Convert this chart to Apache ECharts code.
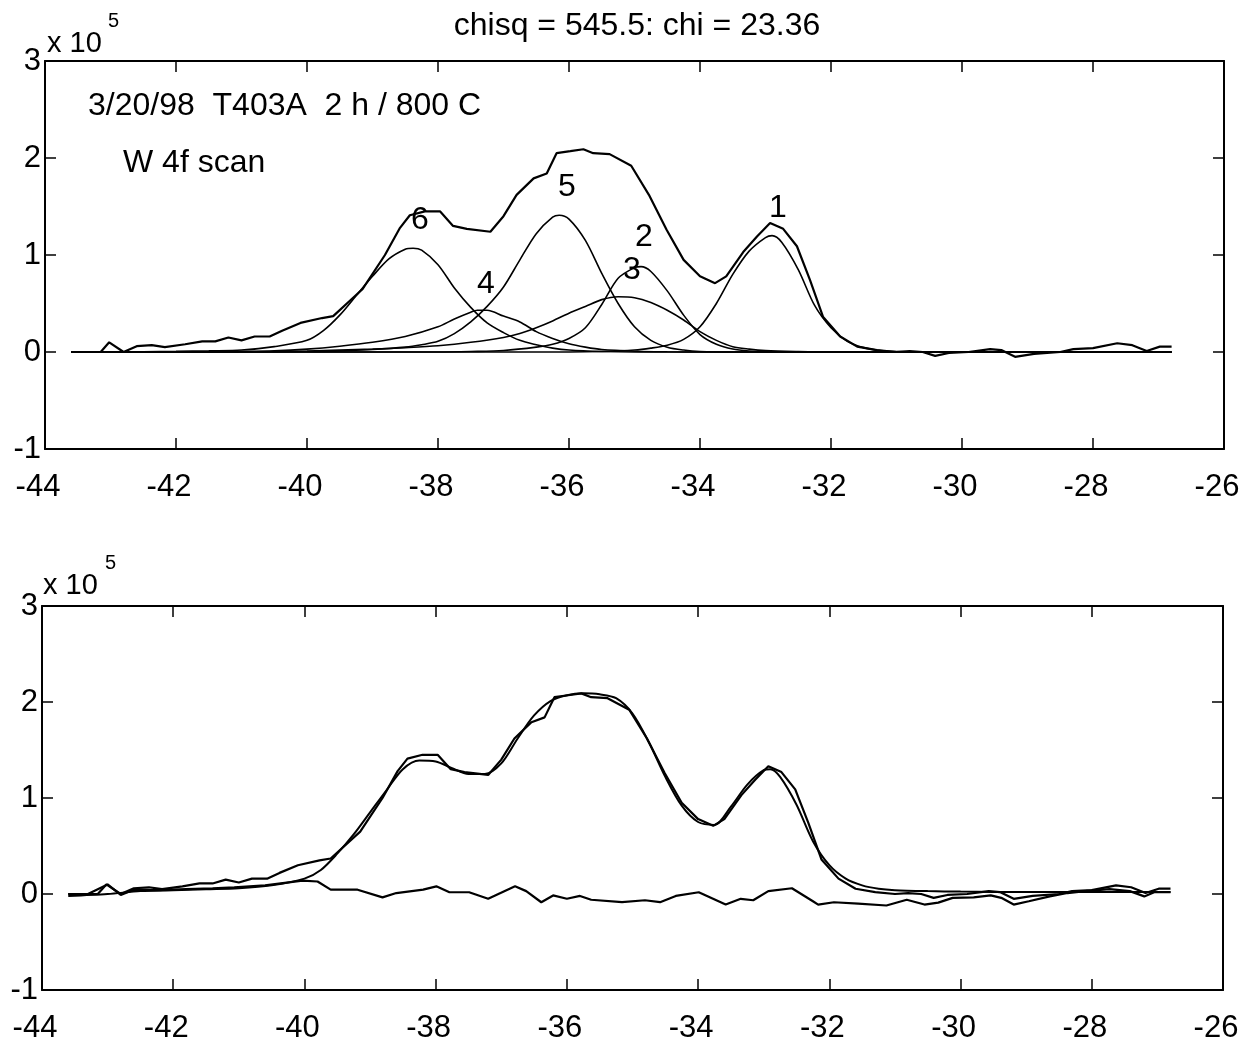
<!DOCTYPE html>
<html><head><meta charset="utf-8">
<script src="https://cdn.jsdelivr.net/npm/echarts@6/dist/echarts.min.js"></script>
<style>html,body{margin:0;padding:0;background:#fff}#c{width:1246px;height:1044px}</style>
</head><body><div id="c"></div><script>
// ---- data (y in units of 1e5) ----
const xTickLabels = [-44,-42,-40,-38,-36,-34,-32,-30,-28,-26];
const yTickLabels = [-1,0,1,2,3];

const measured = [[-43.6,0.0],[-43.3,0.0],[-43.15,0.0],[-43.02,0.10],[-42.8,0.0],[-42.6,0.06],[-42.37,0.07],[-42.17,0.05],[-41.86,0.08],[-41.6,0.11],[-41.4,0.11],[-41.2,0.15],[-41.0,0.12],[-40.8,0.16],[-40.57,0.16],[-40.38,0.22],[-40.1,0.30],[-39.77,0.35],[-39.6,0.37],[-39.15,0.65],[-38.81,1.0],[-38.58,1.28],[-38.43,1.41],[-38.2,1.45],[-37.97,1.45],[-37.77,1.30],[-37.56,1.27],[-37.2,1.24],[-37.0,1.40],[-36.8,1.62],[-36.54,1.79],[-36.34,1.84],[-36.19,2.05],[-35.98,2.07],[-35.78,2.09],[-35.63,2.05],[-35.38,2.04],[-35.05,1.92],[-34.78,1.62],[-34.51,1.26],[-34.25,0.95],[-34.0,0.78],[-33.77,0.71],[-33.6,0.78],[-33.34,1.03],[-33.13,1.19],[-32.93,1.33],[-32.73,1.27],[-32.52,1.09],[-32.32,0.74],[-32.12,0.36],[-31.86,0.16],[-31.6,0.055],[-31.3,0.02],[-31.0,0.0],[-30.8,0.01],[-30.6,0.0],[-30.41,-0.04],[-30.2,-0.01],[-29.9,0.0],[-29.57,0.03],[-29.4,0.02],[-29.19,-0.05],[-28.9,-0.02],[-28.5,0.0],[-28.3,0.03],[-28.0,0.04],[-27.63,0.09],[-27.4,0.07],[-27.18,0.01],[-26.98,0.055],[-26.8,0.055]];

const peak1 = [[-43.6,0],[-36,0],[-35.5,0.005],[-35,0.02],[-34.75,0.04],[-34.5,0.07],[-34.25,0.13],[-34,0.26],[-33.75,0.50],[-33.5,0.80],[-33.25,1.04],[-33,1.18],[-32.9,1.20],[-32.75,1.13],[-32.5,0.85],[-32.25,0.48],[-32,0.25],[-31.75,0.11],[-31.5,0.045],[-31.25,0.015],[-31,0.005],[-30.5,0],[-26.8,0]];
const peak2 = [[-43.6,0],[-38,0],[-37.5,0.005],[-37,0.015],[-36.5,0.05],[-36.25,0.08],[-36,0.14],[-35.75,0.25],[-35.5,0.49],[-35.25,0.76],[-35,0.87],[-34.9,0.88],[-34.75,0.83],[-34.5,0.63],[-34.25,0.38],[-34,0.18],[-33.75,0.08],[-33.5,0.03],[-33.25,0.01],[-33,0.003],[-32.5,0],[-26.8,0]];
const peak3 = [[-43.6,0],[-41,0.003],[-40,0.01],[-39,0.03],[-38.5,0.045],[-38,0.065],[-37.5,0.10],[-37,0.15],[-36.75,0.19],[-36.5,0.25],[-36.25,0.32],[-36,0.40],[-35.75,0.47],[-35.5,0.54],[-35.25,0.57],[-35,0.56],[-34.75,0.51],[-34.5,0.43],[-34.25,0.33],[-34,0.21],[-33.75,0.12],[-33.5,0.055],[-33.25,0.03],[-33,0.015],[-32.5,0.005],[-32,0],[-26.8,0]];
const peak4 = [[-43.6,0],[-41.5,0.003],[-41,0.006],[-40.5,0.012],[-40,0.03],[-39.5,0.06],[-39,0.10],[-38.5,0.16],[-38,0.26],[-37.75,0.34],[-37.5,0.41],[-37.4,0.43],[-37.25,0.43],[-37,0.37],[-36.75,0.31],[-36.5,0.21],[-36.25,0.14],[-36,0.085],[-35.75,0.05],[-35.5,0.025],[-35,0.008],[-34.5,0.002],[-34,0],[-26.8,0]];
const peak5 = [[-43.6,0],[-41,0.002],[-40,0.005],[-39.5,0.01],[-39,0.025],[-38.5,0.05],[-38.25,0.075],[-38,0.11],[-37.75,0.19],[-37.5,0.31],[-37.25,0.47],[-37,0.67],[-36.75,0.95],[-36.5,1.22],[-36.25,1.39],[-36.15,1.41],[-36,1.37],[-35.75,1.15],[-35.5,0.81],[-35.25,0.50],[-35,0.26],[-34.75,0.12],[-34.5,0.05],[-34.25,0.02],[-34,0.005],[-33.5,0],[-26.8,0]];
const peak6 = [[-43.6,0],[-42.5,0.003],[-42,0.006],[-41.5,0.012],[-41,0.02],[-40.5,0.055],[-40,0.12],[-39.75,0.22],[-39.5,0.38],[-39.25,0.58],[-39,0.78],[-38.75,0.96],[-38.5,1.06],[-38.38,1.07],[-38.25,1.05],[-38,0.90],[-37.75,0.66],[-37.5,0.46],[-37.25,0.30],[-37,0.20],[-36.75,0.12],[-36.5,0.075],[-36.25,0.04],[-36,0.02],[-35.5,0.005],[-35,0],[-26.8,0]];

const fitted = [[-43.6,-0.02],[-43.0,0.0],[-42.5,0.03],[-42.0,0.04],[-41.5,0.05],[-41.0,0.06],[-40.5,0.09],[-40.0,0.16],[-39.75,0.25],[-39.5,0.42],[-39.25,0.62],[-39.0,0.85],[-38.75,1.08],[-38.5,1.30],[-38.25,1.39],[-38.0,1.38],[-37.75,1.31],[-37.5,1.25],[-37.25,1.25],[-37.0,1.36],[-36.75,1.62],[-36.5,1.86],[-36.25,2.01],[-36.0,2.07],[-35.75,2.09],[-35.5,2.08],[-35.25,2.04],[-35.0,1.88],[-34.75,1.58],[-34.5,1.22],[-34.25,0.92],[-34.0,0.75],[-33.75,0.72],[-33.5,0.91],[-33.25,1.14],[-33.0,1.29],[-32.9,1.30],[-32.75,1.22],[-32.5,0.93],[-32.25,0.55],[-32.0,0.30],[-31.75,0.16],[-31.5,0.09],[-31.25,0.055],[-31.0,0.04],[-30.5,0.03],[-30.0,0.025],[-29.0,0.02],[-28.0,0.02],[-26.8,0.02]];

const residual = [[-43.6,0.0],[-43.3,0.0],[-43.0,0.10],[-42.8,-0.01],[-42.6,0.045],[-42.2,0.04],[-41.8,0.05],[-41.4,0.06],[-41.07,0.07],[-40.6,0.09],[-40.03,0.14],[-39.8,0.13],[-39.6,0.045],[-39.19,0.045],[-38.81,-0.035],[-38.6,0.01],[-38.19,0.045],[-37.99,0.08],[-37.79,0.018],[-37.49,0.018],[-37.2,-0.05],[-36.79,0.08],[-36.62,0.03],[-36.39,-0.086],[-36.21,-0.015],[-36.0,-0.05],[-35.8,-0.02],[-35.63,-0.06],[-35.16,-0.085],[-34.81,-0.065],[-34.58,-0.085],[-34.34,-0.02],[-33.99,0.018],[-33.58,-0.11],[-33.35,-0.05],[-33.16,-0.065],[-32.93,0.03],[-32.57,0.06],[-32.25,-0.075],[-32.17,-0.11],[-31.93,-0.086],[-31.56,-0.10],[-31.13,-0.12],[-30.82,-0.06],[-30.55,-0.11],[-30.34,-0.09],[-30.12,-0.04],[-29.8,-0.035],[-29.54,-0.015],[-29.38,-0.04],[-29.19,-0.11],[-28.96,-0.075],[-28.64,-0.025],[-28.37,0.01],[-28.1,0.03],[-27.73,0.05],[-27.42,0.03],[-27.2,-0.025],[-27.04,0.02],[-26.8,0.02]];

const titleText = 'chisq = 545.5: chi = 23.36';
const noteLines = ['3/20/98  T403A  2 h / 800 C', 'W 4f scan'];
const peakNames = ['1','2','3','4','5','6'];

// ---- chart ----
const FONT = 'Liberation Sans, Arial, sans-serif';
const xMin = xTickLabels[0], xMax = xTickLabels[xTickLabels.length-1];
const yMin = yTickLabels[0], yMax = yTickLabels[yTickLabels.length-1];

function xAxes(gi) {
  const base = {
    type: 'value', gridIndex: gi, min: xMin, max: xMax, interval: 2,
    axisLine: { show: true, onZero: false, lineStyle: { color: '#000', width: 2 } },
    axisTick: { show: true, inside: true, length: 11, lineStyle: { color: '#000', width: 1.5 } },
    splitLine: { show: false }
  };
  return [
    Object.assign({}, base, { position: 'bottom',
      axisLabel: { show: true, color: '#000', fontSize: 31, fontFamily: FONT, margin: 23, padding: [0, 14, 0, 0] } }),
    Object.assign({}, base, { position: 'top', axisLabel: { show: false } })
  ];
}
function yAxes(gi) {
  const base = {
    type: 'value', gridIndex: gi, min: yMin, max: yMax, interval: 1,
    axisLine: { show: true, onZero: false, lineStyle: { color: '#000', width: 2 } },
    axisTick: { show: true, inside: true, length: 11, lineStyle: { color: '#000', width: 1.5 } },
    splitLine: { show: false }
  };
  return [
    Object.assign({}, base, { position: 'left',
      axisLabel: { show: true, color: '#000', fontSize: 31, fontFamily: FONT, margin: 4, padding: [12, 0, 0, 0] } }),
    Object.assign({}, base, { position: 'right', axisLabel: { show: false } })
  ];
}

function line(name, data, xi, yi, w, smooth) {
  return { name, type: 'line', data, xAxisIndex: xi, yAxisIndex: yi, showSymbol: false, symbol: 'none',
    smooth: smooth || false, lineStyle: { color: '#000', width: w }, z: 3, silent: true };
}

const txt = (text, x, y, size, align) => ({
  type: 'text', x, y, silent: true,
  style: { text, fill: '#000', font: size + 'px ' + FONT, textAlign: align || 'left', textVerticalAlign: 'middle' }
});

const peakLabelPos = [[778,207],[644,236],[632,269],[486,283],[567,186],[420,219]];

const option = {
  animation: false,
  backgroundColor: '#fff',
  grid: [
    { left: 45, top: 61, width: 1179, height: 388 },
    { left: 42, top: 606, width: 1181, height: 387 }
  ],
  xAxis: [...xAxes(0), ...xAxes(1)],
  yAxis: [...yAxes(0), ...yAxes(1)],
  series: [
    line('measured', measured, 0, 0, 2.2),
    line('peak 1', peak1, 0, 0, 1.6, 0.3),
    line('peak 2', peak2, 0, 0, 1.6, 0.3),
    line('peak 3', peak3, 0, 0, 1.6, 0.3),
    line('peak 4', peak4, 0, 0, 1.6, 0.3),
    line('peak 5', peak5, 0, 0, 1.6, 0.3),
    line('peak 6', peak6, 0, 0, 1.6, 0.3),
    line('measured (bottom)', measured, 2, 2, 2.2),
    line('fit', fitted, 2, 2, 2, 0.3),
    line('residual', residual, 2, 2, 2.2)
  ],
  graphic: [
    txt(titleText, 637, 26, 32, 'center'),
    txt('x 10', 47, 44, 29),
    txt('5', 108, 21, 20),
    txt('x 10', 43, 586, 29),
    txt('5', 105, 563, 20),
    txt(noteLines[0], 88, 106, 32),
    txt(noteLines[1], 123, 163, 32),
    ...peakNames.map((n, i) => txt(n, peakLabelPos[i][0], peakLabelPos[i][1] + 1, 32, 'center'))
  ]
};

const chart = echarts.init(document.getElementById('c'), null, { renderer: 'canvas' });
chart.setOption(option);
</script></body></html>
